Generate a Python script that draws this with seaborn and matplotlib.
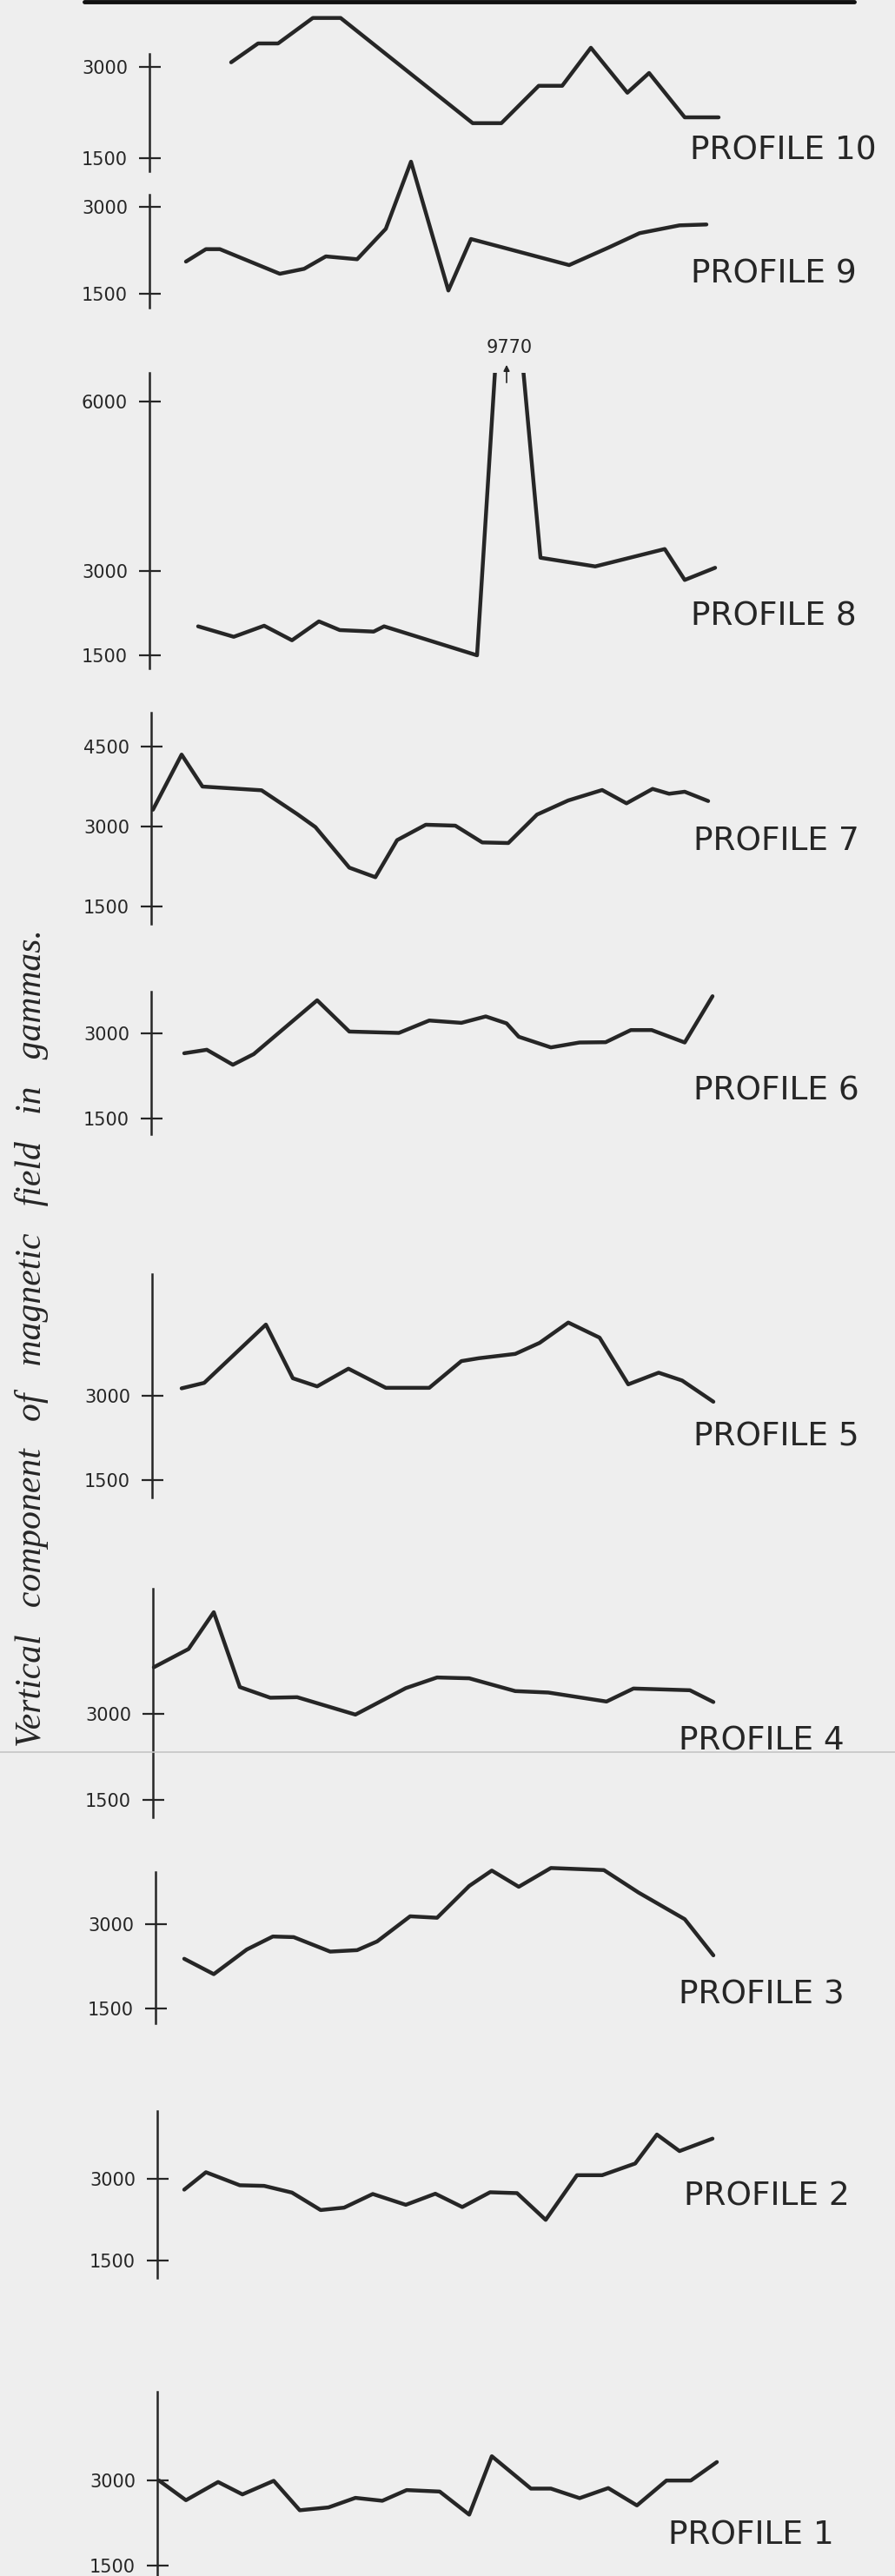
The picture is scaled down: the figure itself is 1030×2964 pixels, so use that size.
import matplotlib
matplotlib.use("Agg")
import seaborn as sns
import matplotlib.pyplot as plt

W, H = 1030, 2964
INK = "#262626"

# Distance along each profile (from the scale bar) and vertical field in gammas
p10_dist = [94, 125, 148, 188, 220, 372, 405, 448, 475, 508, 550, 575, 616, 655]
p10_gamma = [3080, 3391, 3391, 3811, 3811, 2077, 2077, 2693, 2693, 3320, 2579, 2904, 2173, 2173]

p9_dist = [42, 65, 81, 150, 178, 203, 239, 272, 301, 344, 370, 483, 528, 564, 610, 641]
p9_gamma = [2057, 2270, 2270, 1848, 1933, 2146, 2097, 2619, 3770, 1561, 2444, 1997, 2295, 2544, 2678, 2693]

p8_dist = [56, 97, 132, 164, 195, 219, 258, 270, 377, 411, 450, 513, 593, 616, 651]
p8_gamma = [2013, 1828, 2024, 1766, 2101, 1947, 1920, 2013, 1500, 9770, 3229, 3075, 3383, 2835, 3051]

p7_dist = [2, 35, 59, 127, 168, 189, 228, 258, 283, 316, 350, 381, 411, 444, 480, 519, 547, 577, 596, 614, 641]
p7_gamma = [3314, 4346, 3748, 3678, 3233, 2989, 2230, 2051, 2745, 3033, 3016, 2702, 2691, 3223, 3488,
            3683, 3434, 3704, 3613, 3651, 3477]

p6_dist = [38, 64, 94, 118, 191, 228, 285, 320, 357, 385, 409, 423, 460, 493, 523, 552, 576, 614, 646]
p6_gamma = [2645, 2706, 2444, 2630, 3570, 3024, 3000, 3217, 3176, 3288, 3167, 2933, 2747, 2833, 2838,
            3050, 3050, 2833, 3641]

p5_dist = [34, 60, 131, 162, 190, 226, 269, 319, 356, 376, 418, 446, 479, 515, 548, 583, 610, 646]
p5_gamma = [3130, 3227, 4263, 3309, 3165, 3479, 3139, 3139, 3614, 3665, 3742, 3938, 4299, 4031, 3201,
            3408, 3269, 2892]

p4_dist = [1, 41, 70, 100, 135, 166, 233, 291, 327, 364, 417, 455, 522, 553, 618, 645]
p4_gamma = [3824, 4144, 4789, 3477, 3290, 3299, 2994, 3458, 3645, 3630, 3406, 3381, 3223, 3451, 3421, 3214]

p3_dist = [33, 67, 105, 135, 159, 201, 232, 255, 293, 324, 361, 387, 418, 455, 516, 556, 609, 642]
p3_gamma = [2382, 2108, 2547, 2779, 2768, 2510, 2536, 2691, 3139, 3113, 3680, 3954, 3665, 4000, 3963,
            3561, 3088, 2443]

p2_dist = [31, 56, 95, 123, 155, 188, 215, 248, 286, 320, 351, 383, 414, 447, 483, 512, 550, 575, 601, 639]
p2_gamma = [2799, 3118, 2879, 2868, 2745, 2425, 2469, 2719, 2521, 2724, 2480, 2751, 2735, 2245, 3064,
            3064, 3278, 3809, 3506, 3734]

p1_dist = [2, 33, 70, 98, 134, 164, 197, 228, 259, 287, 325, 359, 385, 430, 453, 486, 519, 552, 586, 614, 644]
p1_gamma = [3000, 2654, 2974, 2756, 2995, 2477, 2527, 2695, 2644, 2832, 2806, 2400, 3427, 2858, 2858,
            2690, 2867, 2562, 3000, 3000, 3325]

names = ["PROFILE 10", "PROFILE 9", "PROFILE 8", "PROFILE 7", "PROFILE 6",
         "PROFILE 5", "PROFILE 4", "PROFILE 3", "PROFILE 2", "PROFILE 1"]
dists = [p10_dist, p9_dist, p8_dist, p7_dist, p6_dist, p5_dist, p4_dist, p3_dist, p2_dist, p1_dist]
gammas = [p10_gamma, p9_gamma, p8_gamma, p7_gamma, p6_gamma, p5_gamma, p4_gamma, p3_gamma, p2_gamma, p1_gamma]
ticks = [[1500, 3000], [1500, 3000], [1500, 3000, 6000], [1500, 3000, 4500], [1500, 3000],
         [1500, 3000], [1500, 3000], [1500, 3000], [1500, 3000], [1500, 3000]]
ylims = [(1285, 3219), (1267, 3204), (1269, 6505), (1178, 5131), (1232, 3721),
         (1191, 5160), (1194, 5201), (1233, 3928), (1181, 4240), (1321, 4561)]

# sheet layout in pixels: scale bar x, scale bar top, scale bar bottom / label x, label baseline
axis_px = [(172, 62, 197), (172, 224, 354), (172, 429, 769), (174, 820, 1063), (174, 1141, 1305),
           (175, 1466, 1723), (176, 1828, 2091), (179, 2154, 2328), (181, 2429, 2621), (181, 2752, 2964)]
label_px = [(794, 184), (795, 325), (795, 720), (798, 979), (798, 1266),
            (798, 1664), (781, 2014), (781, 2305), (787, 2537), (769, 2927)]

sns.set_style("white")
plt.rcParams["font.family"] = ["DejaVu Sans"]

fig = plt.figure(figsize=(W / 100, H / 100), dpi=100, facecolor="#eeeeee")

for i, name in enumerate(names):
    x0, top, bot = axis_px[i]
    ax = fig.add_axes([x0 / W, 1 - bot / H, (W - x0) / W, (bot - top) / H])
    ax.set_facecolor("none")
    sns.lineplot(x=dists[i], y=gammas[i], ax=ax, color=INK, linewidth=3.2,
                 estimator=None, sort=False, clip_on=(name == "PROFILE 8"))
    ax.set_xlim(0, W - x0)
    ax.set_ylim(*ylims[i])
    for s in ["top", "right", "bottom"]:
        ax.spines[s].set_visible(False)
    ax.spines["left"].set_color(INK)
    ax.spines["left"].set_linewidth(1.8)
    ax.set_xticks([])
    ax.set_yticks(ticks[i])
    ax.set_yticklabels([str(t) for t in ticks[i]])
    ax.tick_params(axis="y", left=True, direction="inout", length=18, width=1.6, pad=9,
                   labelsize=15, colors=INK)
    ax.set_xlabel("")
    ax.set_ylabel("")

    if name == "PROFILE 8":
        ax.annotate("", xy=(411, 6690), xytext=(411, 6290), annotation_clip=False,
                    arrowprops=dict(arrowstyle="-|>", color=INK, lw=1.2, mutation_scale=10))
        ax.text(414, 6790, "9770", ha="center", va="bottom", fontsize=15,
                color=INK, clip_on=False)

    lx, ly = label_px[i]
    fig.text(lx / W, 1 - ly / H, name, ha="left", va="baseline",
             fontsize=27, color=INK)

fig.text(37 / W, 1 - 1540 / H, "Vertical   component   of   magnetic   field   in   gammas.",
         rotation=90, ha="center", va="center", fontsize=30, color=INK,
         family=["Liberation Serif", "DejaVu Serif"], style="italic")

# border rule at the top of the sheet and the fold line of the scan
fig.add_artist(plt.Line2D([97 / W, 983 / W], [1 - 2 / H, 1 - 2 / H], color="#111111", lw=3.5))
fig.add_artist(plt.Line2D([0, 1], [1 - 2016 / H, 1 - 2016 / H], color="#c4c4c4", lw=1.2))

fig.savefig("out.png", dpi=100, facecolor=fig.get_facecolor())
